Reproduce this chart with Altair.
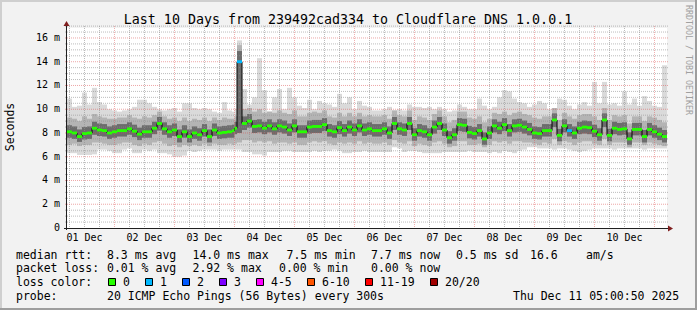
import altair as alt
import pandas as pd

# ---------------- data ----------------
TITLE = "Last 10 Days from 239492cad334 to Cloudflare DNS 1.0.0.1"
START_HOUR = 5      # first sample: 01 Dec 05:00 (hours after 01 Dec 00:00)
Y_MAX = 16.84
# length of every sample (hours); the loss spike early on 04 Dec is a single short sample
step_hours = [2] * 33 + [1, 1] + [2] * 86

median_ms = [
    8.1, 8.0, 7.7, 7.95, 8.0, 8.4, 8.25, 8.2, 8.0, 8.1, 8.2, 8.2, 8.35, 8.15, 7.9, 8.1, 8.1, 8.4, 8.8, 8.35, 8.1, 8.25, 7.7, 8.1,
    7.7, 8.0, 7.85, 8.2, 7.7, 8.25, 8.0, 8.05, 8.1, 8.2, 8.4, 14.0, 8.8, 9.0, 8.55, 8.6, 8.4, 8.6, 8.35, 8.6, 8.5, 8.25, 8.6, 8.1, 8.1,
    8.5, 8.55, 8.55, 8.7, 8.2, 8.1, 8.45, 8.2, 8.5, 8.25, 8.6, 8.25, 8.35, 8.2, 8.2, 8.35, 8.0, 8.8, 8.35, 8.25, 8.8, 7.85, 8.2, 8.1,
    7.85, 8.5, 8.8, 8.25, 7.6, 7.85, 8.7, 8.65, 8.05, 7.95, 8.2, 7.5, 8.0, 8.6, 8.4, 8.7, 8.2, 8.6, 8.65, 8.5, 8.3, 8.0, 7.95, 8.2,
    8.2, 9.1, 7.8, 8.6, 8.2, 8.0, 8.4, 8.5, 8.45, 8.15, 7.85, 9.1, 7.8, 8.4, 8.3, 8.35, 7.5, 8.3, 8.3, 7.7, 8.3, 8.1, 7.9, 7.7,
]

loss_class = [
    "0", "0", "0", "0", "0", "0", "0", "0", "0", "0", "0", "0", "0", "0", "0", "0", "0", "0", "0", "0", "0", "0", "0", "0",
    "0", "0", "0", "0", "0", "0", "0", "0", "0", "0", "0", "1", "0", "0", "0", "0", "0", "0", "0", "0", "0", "0", "0", "0", "0",
    "0", "0", "0", "0", "0", "0", "0", "0", "0", "0", "0", "0", "0", "0", "0", "0", "0", "0", "0", "0", "0", "0", "0", "0",
    "0", "0", "0", "0", "0", "0", "0", "0", "0", "0", "0", "0", "0", "0", "0", "0", "0", "0", "0", "0", "0", "0", "0", "0",
    "0", "0", "0", "0", "1", "0", "0", "0", "0", "0", "0", "0", "0", "0", "0", "0", "0", "0", "0", "0", "0", "0", "0", "0",
]

outer_hi = [
    10.9, 10.2, 10.3, 11.4, 10.4, 11.8, 10.6, 10.4, 10.0, 9.9, 9.8, 9.9, 10.0, 10.2, 10.8, 10.8, 10.5, 10.2, 10.0, 9.9, 10.0, 10.1, 9.8, 10.5,
    10.5, 10.1, 10.0, 10.1, 10.0, 9.8, 9.7, 10.6, 9.9, 9.8, 10.0, 15.8, 11.7, 10.4, 11.0, 14.3, 11.6, 9.8, 11.0, 11.7, 10.0, 11.8, 11.0, 10.3, 10.1,
    10.8, 10.0, 10.7, 10.5, 10.4, 10.2, 11.3, 10.5, 11.0, 10.0, 10.7, 10.3, 10.2, 9.9, 9.9, 10.0, 10.2, 9.9, 10.0, 9.9, 10.4, 10.2, 10.2, 10.1,
    10.2, 10.0, 10.2, 10.0, 9.8, 9.9, 10.4, 10.2, 10.0, 10.0, 10.9, 10.3, 10.0, 10.2, 11.0, 11.6, 11.5, 10.9, 10.6, 10.5, 10.2, 10.4, 10.7, 10.5,
    10.0, 10.0, 10.9, 10.8, 10.3, 10.0, 10.4, 10.6, 10.3, 12.3, 10.5, 12.3, 10.4, 10.5, 10.3, 11.5, 10.4, 10.9, 10.3, 11.1, 10.7, 10.3, 10.2, 13.7,
]

outer_lo = [
    6.3, 6.3, 6.15, 6.15, 6.15, 6.2, 6.6, 6.6, 6.5, 6.3, 6.3, 6.6, 6.7, 6.3, 6.3, 6.6, 6.5, 6.6, 6.3, 6.3, 6.2, 6.0, 6.0, 6.1,
    6.5, 6.4, 6.5, 6.6, 6.6, 6.6, 6.5, 6.6, 6.6, 6.6, 6.6, 6.6, 6.4, 6.4, 6.2, 6.2, 6.1, 6.4, 6.4, 6.4, 6.5, 6.5, 6.4, 6.4, 6.4,
    6.4, 6.5, 6.4, 6.5, 6.5, 6.6, 6.5, 6.3, 6.3, 6.4, 6.4, 6.5, 6.4, 6.4, 6.4, 6.4, 6.4, 6.8, 6.7, 6.4, 6.5, 6.5, 6.4, 6.3,
    6.3, 6.3, 6.3, 6.4, 6.4, 6.4, 6.4, 6.4, 6.5, 6.4, 6.4, 6.4, 6.3, 6.4, 6.3, 6.5, 6.4, 6.3, 6.5, 6.6, 6.8, 6.8, 6.7, 6.7,
    6.7, 6.6, 6.7, 6.7, 6.6, 6.5, 6.4, 6.5, 6.6, 6.7, 6.7, 6.7, 6.7, 6.6, 6.7, 6.7, 6.7, 6.7, 6.7, 6.6, 6.7, 6.7, 6.7, 6.7,
]

mid_lo = [
    7.0, 7.1, 6.9, 7.0, 7.0, 7.2, 7.2, 7.1, 7.0, 7.0, 7.1, 7.2, 7.2, 7.0, 6.9, 7.1, 7.0, 7.2, 7.3, 7.1, 6.9, 7.0, 6.8, 7.0,
    6.9, 7.0, 6.9, 7.1, 6.9, 7.1, 7.0, 7.0, 7.1, 7.0, 7.1, 7.2, 7.4, 7.4, 7.2, 7.3, 7.2, 7.3, 7.1, 7.2, 7.2, 7.1, 7.2, 7.0, 7.0,
    7.2, 7.3, 7.2, 7.3, 7.1, 7.0, 7.2, 7.1, 7.2, 7.1, 7.3, 7.1, 7.2, 7.1, 7.1, 7.2, 7.0, 7.4, 7.2, 7.1, 7.3, 6.9, 7.1, 7.0,
    6.9, 7.2, 7.3, 7.1, 6.8, 6.9, 7.3, 7.3, 7.0, 7.0, 7.1, 6.8, 7.0, 7.3, 7.2, 7.3, 7.1, 7.3, 7.3, 7.2, 7.2, 7.1, 7.0, 7.2,
    7.1, 7.5, 7.0, 7.3, 7.2, 7.0, 7.2, 7.3, 7.3, 7.1, 7.0, 7.5, 7.0, 7.2, 7.2, 7.2, 6.8, 7.2, 7.2, 7.0, 7.2, 7.1, 7.0, 6.9,
]

mid_hi = [
    9.3, 9.2, 9.0, 9.4, 9.2, 9.6, 9.4, 9.3, 9.2, 9.2, 9.3, 9.3, 9.5, 9.3, 9.2, 9.4, 9.3, 9.5, 9.8, 9.4, 9.2, 9.3, 9.0, 9.3,
    9.0, 9.2, 9.1, 9.3, 9.0, 9.3, 9.1, 9.3, 9.2, 9.2, 9.4, 15.4, 10.0, 10.1, 9.8, 10.0, 9.7, 9.8, 9.7, 9.9, 9.7, 9.6, 9.9, 9.4, 9.4,
    9.7, 9.8, 9.7, 9.9, 9.4, 9.3, 9.7, 9.4, 9.7, 9.4, 9.7, 9.4, 9.5, 9.4, 9.4, 9.5, 9.2, 9.9, 9.5, 9.4, 9.9, 9.1, 9.4, 9.3,
    9.1, 9.6, 9.9, 9.4, 8.9, 9.1, 9.8, 9.8, 9.3, 9.2, 9.4, 8.9, 9.2, 9.7, 9.6, 9.8, 9.5, 9.7, 9.8, 9.6, 9.5, 9.3, 9.2, 9.4,
    9.4, 10.1, 9.1, 9.7, 9.4, 9.2, 9.5, 9.6, 9.6, 9.4, 9.1, 10.1, 9.1, 9.5, 9.4, 9.5, 8.8, 9.4, 9.4, 9.0, 9.4, 9.3, 9.1, 8.9,
]

core_lo = [
    7.6, 7.5, 7.25, 7.45, 7.5, 7.85, 7.75, 7.7, 7.5, 7.6, 7.7, 7.7, 7.85, 7.65, 7.4, 7.6, 7.6, 7.9, 8.2, 7.85, 7.6, 7.75, 7.2, 7.6,
    7.2, 7.5, 7.35, 7.7, 7.2, 7.75, 7.5, 7.55, 7.6, 7.6, 7.9, 8.0, 8.25, 8.45, 8.0, 8.05, 7.9, 8.05, 7.85, 8.05, 7.95, 7.75, 8.05, 7.6, 7.6,
    7.95, 8.0, 8.0, 8.15, 7.7, 7.6, 7.9, 7.7, 7.95, 7.75, 8.05, 7.75, 7.85, 7.7, 7.7, 7.85, 7.5, 8.25, 7.85, 7.75, 8.25, 7.35, 7.7, 7.6,
    7.35, 7.95, 8.25, 7.75, 7.1, 7.35, 8.15, 8.1, 7.55, 7.45, 7.7, 7.0, 7.5, 8.05, 7.9, 8.15, 7.7, 8.05, 8.1, 7.95, 7.8, 7.5, 7.45, 7.7,
    7.7, 8.5, 7.3, 8.05, 7.7, 7.5, 7.9, 7.95, 7.9, 7.65, 7.35, 8.5, 7.3, 7.9, 7.8, 7.85, 7.0, 7.8, 7.8, 7.2, 7.8, 7.6, 7.4, 7.2,
]

core_hi = [
    8.65, 8.55, 8.3, 8.5, 8.55, 8.95, 8.8, 8.75, 8.55, 8.65, 8.75, 8.75, 8.9, 8.7, 8.45, 8.65, 8.65, 8.95, 9.35, 8.9, 8.65, 8.8, 8.3, 8.65,
    8.3, 8.55, 8.4, 8.75, 8.3, 8.8, 8.55, 8.6, 8.65, 8.7, 8.95, 14.9, 9.4, 9.6, 9.1, 9.15, 8.95, 9.15, 8.9, 9.15, 9.05, 8.8, 9.15, 8.65, 8.65,
    9.05, 9.1, 9.1, 9.25, 8.75, 8.65, 9.0, 8.75, 9.05, 8.8, 9.15, 8.8, 8.9, 8.75, 8.75, 8.9, 8.55, 9.35, 8.9, 8.8, 9.35, 8.4, 8.75, 8.65,
    8.4, 9.05, 9.35, 8.8, 8.15, 8.4, 9.25, 9.2, 8.6, 8.5, 8.75, 8.05, 8.55, 9.15, 8.95, 9.25, 8.75, 9.15, 9.2, 9.05, 8.85, 8.55, 8.5, 8.75,
    8.75, 9.65, 8.35, 9.15, 8.75, 8.55, 8.95, 9.05, 9.0, 8.7, 8.4, 9.65, 8.35, 8.95, 8.85, 8.9, 8.05, 8.85, 8.85, 8.25, 8.85, 8.65, 8.45, 8.25,
]

loss_labels = ["0", "1", "2", "3", "4-5", "6-10", "11-19", "20/20"]
loss_colors = ["#26ff00", "#00b8ff", "#0059ff", "#7e00ff", "#ff00ff", "#ff5500", "#ff0000", "#a10000"]

# tick values / labels
y_major = [0, 2, 4, 6, 8, 10, 12, 14, 16]
y_labels = ["0", "2 m", "4 m", "6 m", "8 m", "10 m", "12 m", "14 m", "16 m"]
y_minor_step = 0.5
x_major_hours = [24, 48, 72, 96, 120, 144, 168, 192, 216, 240]       # midnights
x_minor_step = 6
day_labels = ["01 Dec", "02 Dec", "03 Dec", "04 Dec", "05 Dec",
              "06 Dec", "07 Dec", "08 Dec", "09 Dec", "10 Dec"]

legend_rows = [
    [("median rtt:", 16), ("8.3 ms avg", 107), ("14.0 ms max", 192.5), ("7.5 ms min", 286.5),
     ("7.7 ms now", 371), ("0.5 ms sd", 456), ("16.6", 530), ("am/s", 586)],
    [("packet loss:", 16), ("0.01 % avg", 107), ("2.92 % max", 192.5), ("0.00 % min", 279),
     ("0.00 % now", 371)],
    [("loss color:", 16)],
    [("probe:", 16), ("20 ICMP Echo Pings (56 Bytes) every 300s", 107),
     ("Thu Dec 11 05:00:50 2025", 513)],
]

# ---------------- layout constants ----------------
W, H = 697, 310
PL, PT = 67, 28           # plot-area origin
PW, PH = 600, 200         # plot-area size
MONO = "DejaVu Sans Mono"
LEG_SIZE = 11.5
LEG_BASE = [258.5, 272.2, 285.9, 299.6]

t0 = []
acc = START_HOUR
for d in step_hours:
    t0.append(acc)
    acc += d
T_END = acc
t_end = t0[1:] + [T_END]

df = pd.DataFrame({
    "t": t0,
    "t2": t_end,
    "med": median_ms,
    "loss": loss_class,
    "o_lo": outer_lo, "o_hi": outer_hi,
    "m_lo": mid_lo, "m_hi": mid_hi,
    "c_lo": core_lo, "c_hi": core_hi,
})
line_df = pd.DataFrame({"t": t0 + [T_END], "med": median_ms + [median_ms[-1]]})

n_ymin = int(round(Y_MAX / y_minor_step))
y_minor = [i * y_minor_step for i in range(1, n_ymin + 1) if (i * y_minor_step) % 2 != 0]
x_minor = [h for h in range(x_minor_step, T_END + 1, x_minor_step) if h % 24 != 0 and h > START_HOUR]
noon_hours = [12 + 24 * i for i in range(len(day_labels))]

XS = alt.Scale(domain=[START_HOUR, T_END], nice=False, zero=False)
YS = alt.Scale(domain=[0, Y_MAX], nice=False, zero=True)


def X(f):
    return alt.X(f, scale=XS, axis=None)


def Y(f):
    return alt.Y(f, scale=YS, axis=None)


base = alt.Chart(df)
outer = base.mark_rect(color="#dadada", strokeWidth=0).encode(
    x=X("t:Q"), x2="t2:Q", y=Y("o_lo:Q"), y2="o_hi:Q")
mid = base.mark_rect(color="#b4b4b4", strokeWidth=0).encode(
    x=X("t:Q"), x2="t2:Q", y=Y("m_lo:Q"), y2="m_hi:Q")
core = base.mark_rect(color="#6c6c6c", strokeWidth=0).encode(
    x=X("t:Q"), x2="t2:Q", y=Y("c_lo:Q"), y2="c_hi:Q")

GRID = "#8f8f8f"
MGRID = "#de4f4f"
grid_layers = [
    alt.Chart(pd.DataFrame({"v": y_minor})).mark_rule(color=GRID, opacity=0.6, strokeDash=[1, 1], strokeWidth=1)
    .encode(y=Y("v:Q"), x=alt.value(-2), x2=alt.value(PW + 2)),
    alt.Chart(pd.DataFrame({"h": x_minor})).mark_rule(color=GRID, opacity=0.6, strokeDash=[1, 1], strokeWidth=1)
    .encode(x=X("h:Q"), y=alt.value(-2), y2=alt.value(PH + 2)),
    alt.Chart(pd.DataFrame({"v": y_major[1:]})).mark_rule(color=MGRID, opacity=0.5, strokeDash=[1, 1], strokeWidth=1)
    .encode(y=Y("v:Q"), x=alt.value(-2), x2=alt.value(PW + 2)),
    alt.Chart(pd.DataFrame({"h": x_major_hours})).mark_rule(color=MGRID, opacity=0.45, strokeDash=[1, 1], strokeWidth=1)
    .encode(x=X("h:Q"), y=alt.value(-2), y2=alt.value(PH + 2)),
]

med_line = alt.Chart(line_df).mark_line(interpolate="step-after", color="#000000", strokeWidth=1).encode(
    x=X("t:Q"), y=Y("med:Q"))
loss_rects = base.transform_calculate(
    lo="datum.med - 0.12", hi="datum.med + 0.12"
).mark_rect(strokeWidth=0).encode(
    x=X("t:Q"), x2="t2:Q", y=Y("lo:Q"), y2="hi:Q",
    color=alt.Color("loss:N", scale=alt.Scale(domain=loss_labels, range=loss_colors), legend=None))

one = pd.DataFrame({"k": [0]})


def rx(x):
    return alt.value(x - PL)


def ry(y):
    return alt.value(y - PT)


# tick labels through the scales
y_lab = alt.Chart(pd.DataFrame({"v": y_major, "s": y_labels})).mark_text(
    align="right", baseline="middle", font=MONO, fontSize=10, color="#000000"
).encode(y=Y("v:Q"), x=alt.value(-7), text="s:N")
x_lab = alt.Chart(pd.DataFrame({"h": noon_hours, "s": day_labels})).mark_text(
    align="center", baseline="alphabetic", font=MONO, fontSize=10, color="#000000"
).encode(x=X("h:Q"), y=ry(241), text="s:N")


def box(x1, y1, x2, y2, color, stroke=None):
    kw = dict(color=color)
    if stroke:
        kw.update(stroke=stroke, strokeWidth=1)
    else:
        kw.update(strokeWidth=0)
    return alt.Chart(one).mark_rect(**kw).encode(x=rx(x1), x2=rx(x2), y=ry(y1), y2=ry(y2))


def text(x, y, s, size=LEG_SIZE, color="#000000", align="left", baseline="alphabetic", angle=0):
    return alt.Chart(one).mark_text(text=s, align=align, baseline=baseline, fontSize=size, font=MONO,
                                    color=color, angle=angle).encode(x=rx(x), y=ry(y))


deco = []
# frame shading
deco.append(box(0, 0, W, 2, "#cfcfcf"))
deco.append(box(0, 0, 2, H, "#cfcfcf"))
deco.append(box(0, H - 2, W, H, "#9e9e9e"))
deco.append(box(W - 2, 0, W, H, "#9e9e9e"))
# axes with arrows
deco.append(alt.Chart(one).mark_rule(color="#1f1f1f", strokeWidth=1).encode(
    x=rx(PL - 0.5), y=ry(PT + PH + 2), y2=ry(PT - 3)))
deco.append(alt.Chart(one).mark_rule(color="#1f1f1f", strokeWidth=1).encode(
    x=rx(PL - 3), x2=rx(PL + PW + 2), y=ry(PT + PH + 0.5)))
deco.append(alt.Chart(one).mark_point(shape="M-3,0L3,0L0,-5Z", size=4, filled=True, opacity=1,
                                      color="#801f1f", strokeWidth=0).encode(x=rx(PL - 0.5), y=ry(PT - 2)))
deco.append(alt.Chart(one).mark_point(shape="M0,-3L0,3L5,0Z", size=4, filled=True, opacity=1,
                                      color="#801f1f", strokeWidth=0).encode(x=rx(PL + PW + 1), y=ry(PT + PH + 0.5)))
# title & side texts
deco.append(text(348, 24, TITLE, size=13.3, align="center"))
deco.append(text(11, 127, "Seconds", size=11.5, align="center", baseline="middle", angle=270))
deco.append(text(688, 5, "RRDTOOL / TOBI OETIKER", size=8.3, color="#a0a0a0", align="left",
                 baseline="middle", angle=90))
# legend lines
for row, yb in zip(legend_rows, LEG_BASE):
    for s, x in row:
        deco.append(text(x, yb, s))
# loss colour legend
xs = 108
for lab, col in zip(loss_labels, loss_colors):
    deco.append(box(xs + 0.5, 278.5, xs + 7.5, 285.5, col, stroke="#000000"))
    deco.append(text(xs + 15, LEG_BASE[2], lab))
    xs = xs + 15 + 7 * len(lab) + 15

chart = alt.layer(outer, mid, core, *grid_layers, med_line, loss_rects, y_lab, x_lab, *deco).properties(
    width=PW, height=PH,
    padding={"left": PL, "top": PT, "right": W - PL - PW, "bottom": H - PT - PH},
    autosize=alt.AutoSizeParams(type="none"),
    background="#f2f2f2",
).configure_view(stroke=None, fill="white")

chart.save("out.html", embed_options={"renderer": "svg", "actions": False})
